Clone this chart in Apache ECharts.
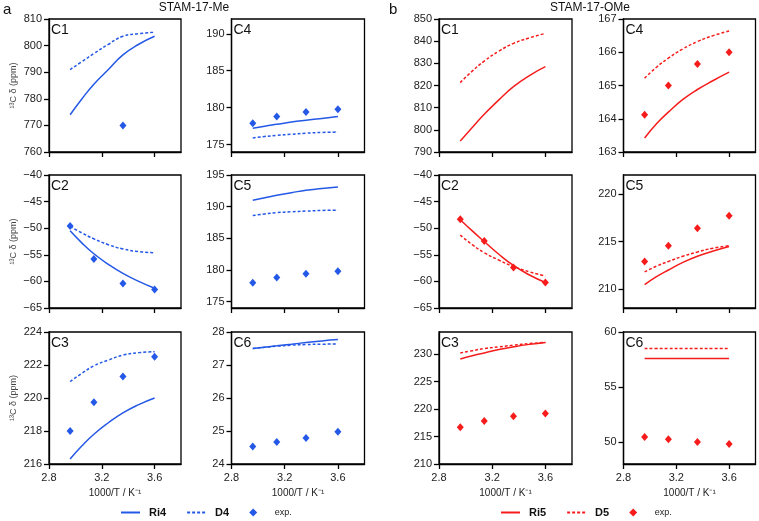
<!DOCTYPE html>
<html>
<head>
<meta charset="utf-8">
<script src="https://cdn.jsdelivr.net/npm/echarts@6/dist/echarts.min.js"></script>
<style>
html,body{margin:0;padding:0;background:#fff;}
#chart{width:759px;height:521px;}
</style>
</head>
<body>
<div id="chart"></div>
<script>
// ---------- data ----------
const xCurve = [2.96, 3.05, 3.14, 3.25, 3.36, 3.48, 3.6];
const xExp = [2.96, 3.14, 3.36, 3.6];
const xTicks = [2.8, 3.2, 3.6];

// STAM-17-Me (a)
const a_C1_Ri4 = [774, 780, 785.5, 791, 796.5, 800.5, 803.5];
const a_C1_D4  = [791, 794, 797, 800.5, 803.5, 804.5, 805];
const a_C1_exp = [null, null, 770, null];

const a_C2_Ri4 = [-50.5, -52.8, -54.8, -56.8, -58.5, -60, -61.3];
const a_C2_D4  = [-49.7, -50.9, -52, -53.1, -53.9, -54.4, -54.6];
const a_C2_exp = [-49.6, -55.8, -60.4, -61.5];

const a_C3_Ri4 = [216.3, 217.1, 217.8, 218.5, 219.1, 219.6, 220];
const a_C3_D4  = [221.0, 221.5, 221.95, 222.3, 222.6, 222.75, 222.8];
const a_C3_exp = [218.0, 219.75, 221.3, 222.5];

const a_C4_Ri4 = [177.2, 177.5, 177.75, 178.05, 178.3, 178.55, 178.8];
const a_C4_D4  = [175.9, 176.1, 176.25, 176.4, 176.55, 176.65, 176.7];
const a_C4_exp = [177.9, 178.8, 179.4, 179.8];

const a_C5_Ri4 = [191.0, 191.4, 191.8, 192.2, 192.6, 192.85, 193.1];
const a_C5_D4  = [188.6, 188.85, 189.05, 189.2, 189.3, 189.4, 189.45];
const a_C5_exp = [178.0, 178.8, 179.4, 179.8];

const a_C6_Ri4 = [27.5, 27.54, 27.58, 27.63, 27.68, 27.73, 27.77];
const a_C6_D4  = [27.5, 27.54, 27.57, 27.6, 27.62, 27.63, 27.64];
const a_C6_exp = [24.53, 24.67, 24.79, 24.98];

// STAM-17-OMe (b)
const b_C1_Ri5 = [795, 801, 807, 813.5, 819.5, 824.5, 828.5];
const b_C1_D5  = [821.3, 826.5, 831, 835.5, 839, 841.5, 843.5];
const b_C1_exp = [null, null, null, null];

const b_C2_Ri5 = [-48.4, -50.5, -52.5, -54.9, -57.0, -58.8, -60.2];
const b_C2_D5  = [-51.3, -53.1, -54.6, -56.0, -57.2, -58.2, -59.0];
const b_C2_exp = [-48.3, -52.4, -57.4, -60.2];

const b_C3_Ri5 = [229.1, 229.7, 230.2, 230.8, 231.3, 231.75, 232.1];
const b_C3_D5  = [230.2, 230.6, 231.0, 231.3, 231.6, 231.9, 232.1];
const b_C3_exp = [216.7, 217.8, 218.7, 219.2];

const b_C4_Ri5 = [163.42, 163.85, 164.2, 164.58, 164.88, 165.15, 165.4];
const b_C4_D5  = [165.22, 165.55, 165.82, 166.1, 166.32, 166.5, 166.64];
const b_C4_exp = [164.12, 165.0, 165.65, 166.0];

const b_C5_Ri5 = [210.46, 211.3, 212.0, 212.8, 213.45, 214.0, 214.48];
const b_C5_D5  = [211.8, 212.4, 212.9, 213.45, 213.9, 214.3, 214.55];
const b_C5_exp = [212.9, 214.55, 216.4, 217.7];

const b_C6_Ri5 = [57.58, 57.58, 57.58, 57.58, 57.58, 57.58, 57.58];
const b_C6_D5  = [58.5, 58.5, 58.5, 58.5, 58.5, 58.5, 58.5];
const b_C6_exp = [50.46, 50.25, 50.0, 49.82];

// y ranges & tick labels
const yt_aC1 = [760, 770, 780, 790, 800, 810];
const yt_aC2 = [-65, -60, -55, -50, -45, -40];
const yt_aC3 = [216, 218, 220, 222, 224];
const yt_aC4 = [175, 180, 185, 190];
const yt_aC5 = [175, 180, 185, 190, 195];
const yt_aC6 = [24, 25, 26, 27, 28];
const yt_bC1 = [790, 800, 810, 820, 830, 840, 850];
const yt_bC2 = [-65, -60, -55, -50, -45, -40];
const yt_bC3 = [210, 215, 220, 225, 230];
const yt_bC4 = [163, 164, 165, 166, 167];
const yt_bC5 = [210, 215, 220];
const yt_bC6 = [50, 55, 60];

// ---------- layout / style ----------
const BLUE = '#2458e6';
const RED = '#f61c1c';
const colLeft = [49, 231.5, 439, 623.5];
const colWidth = [132, 133, 133, 132];
const rowTop = [19, 175, 332];
const rowHeight = [133, 133, 132];

const panels = [
  {c:0, r:0, label:'C1', min:760, max:810, ticks:yt_aC1, ri:a_C1_Ri4, d:a_C1_D4, exp:a_C1_exp, set:'a'},
  {c:0, r:1, label:'C2', min:-65, max:-40, ticks:yt_aC2, ri:a_C2_Ri4, d:a_C2_D4, exp:a_C2_exp, set:'a'},
  {c:0, r:2, label:'C3', min:216, max:224, ticks:yt_aC3, ri:a_C3_Ri4, d:a_C3_D4, exp:a_C3_exp, set:'a'},
  {c:1, r:0, label:'C4', min:174, max:192, ticks:yt_aC4, ri:a_C4_Ri4, d:a_C4_D4, exp:a_C4_exp, set:'a'},
  {c:1, r:1, label:'C5', min:174, max:195, ticks:yt_aC5, ri:a_C5_Ri4, d:a_C5_D4, exp:a_C5_exp, set:'a'},
  {c:1, r:2, label:'C6', min:24, max:28, ticks:yt_aC6, ri:a_C6_Ri4, d:a_C6_D4, exp:a_C6_exp, set:'a'},
  {c:2, r:0, label:'C1', min:790, max:850, ticks:yt_bC1, ri:b_C1_Ri5, d:b_C1_D5, exp:b_C1_exp, set:'b'},
  {c:2, r:1, label:'C2', min:-65, max:-40, ticks:yt_bC2, ri:b_C2_Ri5, d:b_C2_D5, exp:b_C2_exp, set:'b'},
  {c:2, r:2, label:'C3', min:210, max:234, ticks:yt_bC3, ri:b_C3_Ri5, d:b_C3_D5, exp:b_C3_exp, set:'b'},
  {c:3, r:0, label:'C4', min:163, max:167, ticks:yt_bC4, ri:b_C4_Ri5, d:b_C4_D5, exp:b_C4_exp, set:'b'},
  {c:3, r:1, label:'C5', min:208, max:222, ticks:yt_bC5, ri:b_C5_Ri5, d:b_C5_D5, exp:b_C5_exp, set:'b'},
  {c:3, r:2, label:'C6', min:48, max:60, ticks:yt_bC6, ri:b_C6_Ri5, d:b_C6_D5, exp:b_C6_exp, set:'b'}
];

const FONT = '"Liberation Sans", Arial, sans-serif';
const grids = [], xAxes = [], yAxes = [], series = [], graphics = [];

panels.forEach((p, i) => {
  grids.push({
    left: colLeft[p.c], top: rowTop[p.r], width: colWidth[p.c], height: rowHeight[p.r],
    show: true, borderColor: '#000', borderWidth: 1.3, backgroundColor: 'transparent'
  });
  const bottom = p.r === 2;
  xAxes.push({
    type: 'value', gridIndex: i, min: 2.8, max: 3.8,
    axisLine: {show: true, onZero: false, lineStyle: {color: '#000', width: 1.3}},
    axisTick: {show: true, length: 5, lineStyle: {color: '#000', width: 1.3}, customValues: xTicks},
    axisLabel: {show: bottom, customValues: xTicks, margin: 8, fontSize: 11, color: '#222', fontFamily: FONT,
      formatter: v => v.toFixed(1)},
    splitLine: {show: false},
    name: bottom ? '1000/T / K\u207B\u00B9' : '',
    nameLocation: 'middle', nameGap: 24,
    nameTextStyle: {fontSize: 10, color: '#222', fontFamily: FONT}
  });
  yAxes.push({
    type: 'value', gridIndex: i, min: p.min, max: p.max,
    axisLine: {show: true, onZero: false, lineStyle: {color: '#000', width: 1.3}},
    axisTick: {show: true, length: 5, lineStyle: {color: '#000', width: 1.3}, customValues: p.ticks},
    axisLabel: {show: true, customValues: p.ticks, margin: 7, fontSize: 11, color: '#222', fontFamily: FONT,
      formatter: v => String(v).replace('-', '\u2212')},
    splitLine: {show: false},
    name: p.c === 0 ? '\u00B9\u00B3C \u03B4 (ppm)' : '',
    nameLocation: 'middle', nameGap: 31,
    nameTextStyle: {fontSize: 9, color: '#444', fontFamily: FONT}
  });
  const col = p.set === 'a' ? BLUE : RED;
  const riName = p.set === 'a' ? 'Ri4' : 'Ri5';
  const dName = p.set === 'a' ? 'D4' : 'D5';
  const eName = p.set === 'a' ? 'exp.a' : 'exp.b';
  series.push({
    type: 'line', name: riName, xAxisIndex: i, yAxisIndex: i, symbol: 'none', smooth: true,
    data: xCurve.map((x, k) => [x, p.ri[k]]),
    lineStyle: {color: col, width: 1.5}, itemStyle: {color: col}, silent: true, z: 3
  });
  series.push({
    type: 'line', name: dName, xAxisIndex: i, yAxisIndex: i, symbol: 'none', smooth: true,
    data: xCurve.map((x, k) => [x, p.d[k]]),
    lineStyle: {color: col, width: 1.5, type: [3, 2]}, itemStyle: {color: col}, silent: true, z: 3
  });
  series.push({
    type: 'scatter', name: eName, xAxisIndex: i, yAxisIndex: i, symbol: 'diamond', symbolSize: [7, 8],
    data: xExp.map((x, k) => [x, p.exp[k]]).filter(d => d[1] !== null),
    itemStyle: {color: col, opacity: 1}, silent: true, z: 4
  });
  graphics.push({
    type: 'text', left: colLeft[p.c] + 2, top: rowTop[p.r] + 4,
    style: {text: p.label, font: '14px ' + FONT, fill: '#111'}
  });
});

graphics.push({type: 'text', left: 3, top: 2, style: {text: 'a', font: '15px ' + FONT, fill: '#111'}});
graphics.push({type: 'text', left: 389, top: 2, style: {text: 'b', font: '15px ' + FONT, fill: '#111'}});

const legendRich = {
  b: {fontWeight: 'bold', fontSize: 11, color: '#111', fontFamily: FONT, padding: [0, 0, 0, 4]},
  n: {fontSize: 9, color: '#222', fontFamily: FONT, padding: [0, 0, 0, 7]}
};
const legendFmt = name => name.startsWith('exp') ? '{n|exp.}' : '{b|' + name + '}';
const DIAMOND = 'path://M5,0L10,5L5,10L0,5Z';
const hideSym = {opacity: 0};

const option = {
  backgroundColor: '#fff',
  animation: false,
  title: [
    {text: 'STAM-17-Me', left: 189, top: -3, textAlign: 'center',
      textStyle: {fontSize: 12, fontWeight: 'normal', color: '#111', fontFamily: FONT}},
    {text: 'STAM-17-OMe', left: 585, top: -3, textAlign: 'center',
      textStyle: {fontSize: 12, fontWeight: 'normal', color: '#111', fontFamily: FONT}}
  ],
  legend: [
    {data: [{name: 'Ri4', itemStyle: hideSym}, {name: 'D4', itemStyle: hideSym}, {name: 'exp.a', icon: DIAMOND, itemStyle: {opacity: 1}}],
      left: 120, top: 507, padding: 0, symbolKeepAspect: true,
      itemWidth: 19, itemHeight: 8, itemGap: 20, selectedMode: false,
      formatter: legendFmt, textStyle: {rich: legendRich}},
    {data: [{name: 'Ri5', itemStyle: hideSym}, {name: 'D5', itemStyle: hideSym}, {name: 'exp.b', icon: DIAMOND, itemStyle: {opacity: 1}}],
      left: 500, top: 507, padding: 0, symbolKeepAspect: true,
      itemWidth: 19, itemHeight: 8, itemGap: 20, selectedMode: false,
      formatter: legendFmt, textStyle: {rich: legendRich}}
  ],
  grid: grids,
  xAxis: xAxes,
  yAxis: yAxes,
  series: series,
  graphic: graphics
};

const chart = echarts.init(document.getElementById('chart'), null, {renderer: 'canvas'});
chart.setOption(option);
</script>
</body>
</html>
